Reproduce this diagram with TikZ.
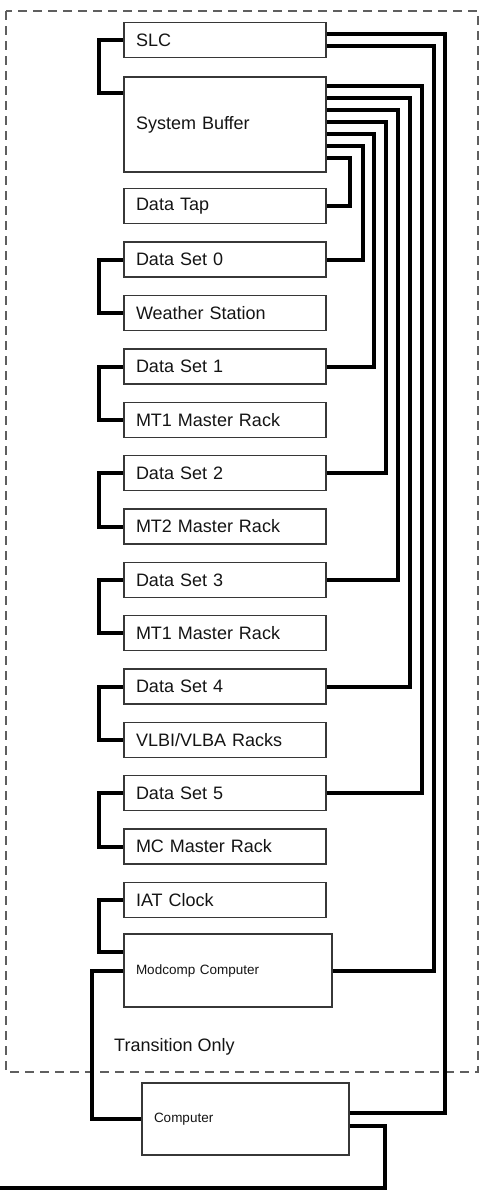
\documentclass[tikz,border=0pt]{standalone}
\usepackage{fontspec}
\setmainfont{Liberation Sans}
\definecolor{boxbdr}{RGB}{55,55,55}
\definecolor{hdrclr}{RGB}{20,20,20}
\definecolor{dashclr}{RGB}{95,95,95}
\definecolor{wireclr}{RGB}{0,0,0}
\tikzset{
  unit/.style={rectangle,draw=boxbdr,line width=1.2bp,
    minimum width=202bp,minimum height=35bp,text width=178bp,
    inner xsep=12bp,inner ysep=0pt,align=left,
    font=\fontsize{18bp}{21bp}\selectfont,text=hdrclr},
  cpu/.style={unit,minimum height=#1,font=\fontsize{13.5bp}{16bp}\selectfont},
  wire/.style={line width=4bp,color=wireclr},
  zone/.style={draw=dashclr,line width=1.2bp,dash pattern=on 9bp off 6bp},
  lbl/.style={font=\fontsize{18bp}{21bp}\selectfont,text=hdrclr,inner sep=0pt},
}
\begin{document}
\begin{tikzpicture}[x=1bp,y=1bp]
  \useasboundingbox (0,0) rectangle (480,-1192);
  % transition zone
  \draw[zone] (6,-11) rectangle (478,-1072);
  \node[lbl,anchor=west] (trans) at (114,-1047) {Transition Only};
  % stack of units
  \node[unit] (slc) at (225,-40) {SLC};
  \node[unit,minimum height=95bp] (buf) at (225,-124.5) {System Buffer};
  \node[unit] (tap) at (225,-206) {Data Tap};
  \node[unit] (ds0) at (225,-259.5) {Data Set 0};
  \node[unit] (wst) at (225,-313) {Weather Station};
  \node[unit] (ds1) at (225,-366.5) {Data Set 1};
  \node[unit] (mt1a) at (225,-420) {MT1 Master Rack};
  \node[unit] (ds2) at (225,-473) {Data Set 2};
  \node[unit] (mt2) at (225,-526.5) {MT2 Master Rack};
  \node[unit] (ds3) at (225,-580) {Data Set 3};
  \node[unit] (mt1b) at (225,-633) {MT1 Master Rack};
  \node[unit] (ds4) at (225,-686.5) {Data Set 4};
  \node[unit] (vlbi) at (225,-740) {VLBI/VLBA Racks};
  \node[unit] (ds5) at (225,-793) {Data Set 5};
  \node[unit] (mcr) at (225,-846.5) {MC Master Rack};
  \node[unit] (iat) at (225,-900) {IAT Clock};
  % computers
  \node[cpu=73bp,text width=184bp] (modc) at (228,-970.5) {Modcomp Computer};
  \node[cpu=72bp,text width=183bp] (comp) at (245.5,-1119) {Computer};
  \coordinate (exit) at (0,-1188);
  % left side links
  \draw[wire] (slc.west) -- ++(-24,0) |- ([yshift=-17bp]buf.north west);
  \draw[wire] (ds0.west) -- ++(-24,0) |- (wst.west);
  \draw[wire] (ds1.west) -- ++(-24,0) |- (mt1a.west);
  \draw[wire] (ds2.west) -- ++(-24,0) |- (mt2.west);
  \draw[wire] (ds3.west) -- ++(-24,0) |- (mt1b.west);
  \draw[wire] (ds4.west) -- ++(-24,0) |- (vlbi.west);
  \draw[wire] (ds5.west) -- ++(-24,0) |- (mcr.west);
  \draw[wire] (iat.west) -- ++(-24,0) |- ([yshift=-19bp]modc.north west);
  \draw[wire] (modc.west) -- ++(-31,0) |- (comp.west);
  % right side links from SLC
  \draw[wire] ([yshift=6bp]slc.east) -- ++(118,0) |- ([yshift=6bp]comp.east);
  \draw[wire] ([yshift=-6bp]slc.east) -- ++(107,0) |- (modc.east);
  % right side links from System Buffer
  \draw[wire] ([yshift=-10bp]buf.north east) -- ++(95,0) |- (ds5.east);
  \draw[wire] ([yshift=-22bp]buf.north east) -- ++(83,0) |- (ds4.east);
  \draw[wire] ([yshift=-34bp]buf.north east) -- ++(71,0) |- (ds3.east);
  \draw[wire] ([yshift=-46bp]buf.north east) -- ++(59,0) |- (ds2.east);
  \draw[wire] ([yshift=-58bp]buf.north east) -- ++(47,0) |- (ds1.east);
  \draw[wire] ([yshift=-70bp]buf.north east) -- ++(36,0) |- (ds0.east);
  \draw[wire] ([yshift=-82bp]buf.north east) -- ++(23,0) |- (tap.east);
  % computer out
  \draw[wire] ([yshift=-7bp]comp.east) -- ++(35,0) |- (exit);
\end{tikzpicture}
\end{document}
